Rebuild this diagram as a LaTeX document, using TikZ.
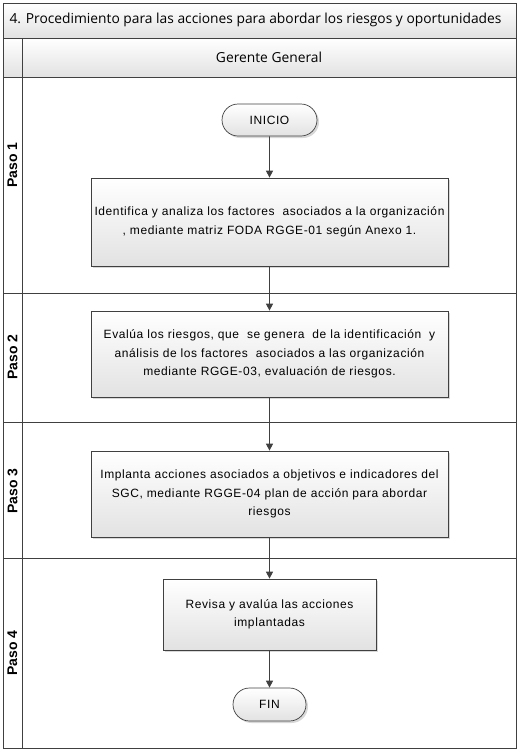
\documentclass[tikz,border=0pt]{standalone}
\usepackage{fontspec}
\setmainfont{Liberation Sans}
\newfontfamily\titleFont{Open Sans}
\newfontfamily\boxFace[LetterSpace=5]{Liberation Sans}
\usetikzlibrary{arrows.meta,shadows,shapes.misc}
\definecolor{lineGray}{HTML}{404040}
\definecolor{shadeGray}{HTML}{E2E2E2}
\newcommand{\chartLeft}{3}
\newcommand{\chartRight}{516}
\newcommand{\chartBottom}{748}
\newcommand{\colRight}{22}
\newcommand{\flowX}{269.5}
\newcommand{\boxFont}{\boxFace\fontsize{12}{18.5}\selectfont}
\newcommand{\headFont}{\titleFont\fontsize{13.8}{16}\selectfont}
\tikzset{
  laneline/.style={draw=lineGray, line width=0.9pt},
  band/.style={laneline, top color=white, bottom color=shadeGray},
  stepbox/.style={draw=lineGray, line width=0.7pt, top color=white, bottom color=shadeGray,
    drop shadow={shadow xshift=2pt, shadow yshift=-2pt, fill=gray!60, opacity=.5},
    minimum width=357pt, align=center, inner sep=0pt, font=\boxFont},
  term/.style={stepbox, rounded rectangle, minimum width=95pt, minimum height=32pt},
  paso/.style={rotate=90, font=\bfseries\fontsize{14}{16}\selectfont},
  flow/.style={draw=lineGray, line width=0.9pt, -{Triangle[length=7pt,width=7pt]}}
}
\begin{document}
\begin{tikzpicture}[x=1pt,y=-1pt]
\useasboundingbox (0,0) rectangle (518,750);
% title and lane header
\draw[band] (\chartLeft,3) rectangle (\chartRight,38);
\node (title) [anchor=west, font=\headFont] at (6,20)
  {4. Procedimiento para las acciones para abordar los riesgos y oportunidades};
\draw[band] (\chartLeft,38) rectangle (\colRight,77);
\draw[band] (\colRight,38) rectangle (\chartRight,77);
\node (gerente) [font=\headFont] at (269,57) {Gerente General};
% lanes
\draw[laneline] (\chartLeft,38) rectangle (\chartRight,\chartBottom);
\draw[laneline] (\colRight,38) -- (\colRight,\chartBottom);
\foreach \y in {293,422,558}
  \draw[laneline] (\chartLeft,\y) -- (\chartRight,\y);
\node (paso1) [paso] at (12.5,165) {Paso 1};
\node (paso2) [paso] at (12.5,357) {Paso 2};
\node (paso3) [paso] at (12.5,491) {Paso 3};
\node (paso4) [paso] at (12.5,653) {Paso 4};
% flow
\node (inicio) [term] at (\flowX,120) {INICIO};
\node (identifica) [stepbox, minimum height=88pt] at (\flowX,222)
  {Identifica y analiza los factores\ \ asociados a la organización\\, mediante matriz FODA RGGE-01\ según Anexo 1.};
\node (evalua) [stepbox, minimum height=86pt] at (\flowX,354)
  {Evalúa los riesgos, que\ \ se genera\ \ de la identificación\ \ y\\análisis de los factores\ \ asociados a las organización\\mediante RGGE-03, evaluación de riesgos.};
\node (implanta) [stepbox, minimum height=86pt] at (\flowX,494)
  {Implanta acciones asociados a objetivos e indicadores del\\SGC, mediante RGGE-04 plan de acción para abordar\\riesgos};
\node (revisa) [stepbox, minimum width=213pt, minimum height=71pt] at (\flowX,614.5)
  {Revisa y avalúa las acciones\\implantadas};
\node (fin) [term, minimum width=73pt, minimum height=33pt] at (\flowX,704.5) {FIN};
\draw[flow] (inicio) -- (identifica);
\draw[flow] (identifica) -- (evalua);
\draw[flow] (evalua) -- (implanta);
\draw[flow] (implanta) -- (revisa);
\draw[flow] (revisa) -- (fin);
\end{tikzpicture}
\end{document}
